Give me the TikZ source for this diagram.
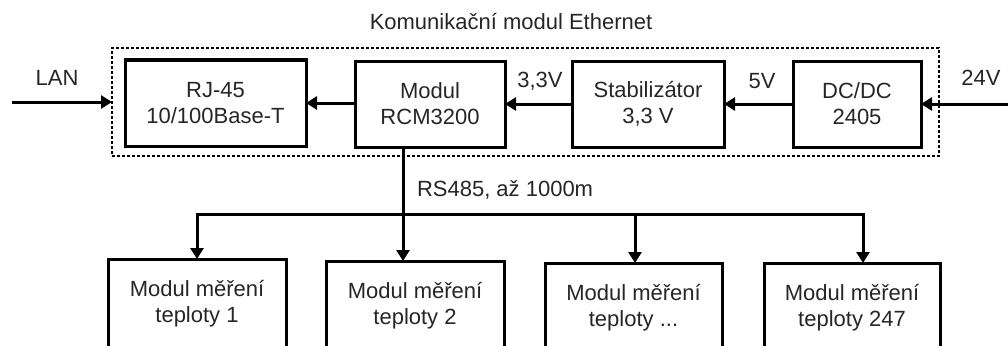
\documentclass[tikz,border=0pt]{standalone}
\usepackage{fontspec}
\setmainfont{Liberation Sans}
\usetikzlibrary{arrows.meta}
\begin{document}
\begin{tikzpicture}[x=1pt,y=-1pt,
  every node/.style={font=\fontsize{22}{26}\selectfont, inner sep=0pt, outer sep=0pt, text=black!85},
  blk/.style={draw=black, line width=3pt, align=center, minimum height=86pt},
  conn/.style={line width=3pt, -{Triangle[length=11pt,width=13pt]}},
  wire/.style={line width=3pt}
]
\useasboundingbox (0,0) rectangle (1008,345);
\clip (0,0) rectangle (1008,345);

\node (title) at (511,22) {Komunikační modul Ethernet};
\node[draw=black, line width=2.6pt, dash pattern=on 2.6pt off 2.4pt, minimum width=827pt, minimum height=108pt] (frame) at (525.5,102) {};

\node[blk, minimum width=181pt] (rj) at (215.5,103) {RJ-45\\10/100Base-T};
\node[blk, minimum width=150pt] (mod) at (430,104) {Modul\\RCM3200};
\node[blk, minimum width=152pt] (stab) at (648,104) {Stabilizátor\\3,3 V};
\node[blk, minimum width=128pt] (dc) at (857,104) {DC/DC\\2405};

\coordinate (lanS) at (12,102);
\coordinate (vS) at (1008,104);
\node (lan) at (57,78) {LAN};
\node (v24) at (981,78) {24V};
\node (v33) at (540,81) {3,3V};
\node (v5) at (762,81) {5V};

\draw[conn] (lanS) -- (lanS -| frame.west);
\draw[conn] (vS) -- (vS -| dc.east);
\draw[conn] (dc.west) -- (stab.east);
\draw[conn] (stab.west) -- (mod.east);
\draw[conn] (mod.west |- rj.east) -- (rj.east);

\node[blk, minimum width=178pt, minimum height=90pt, anchor=north] (b1) at (197,259) {Modul měření\\teploty 1};
\node[blk, minimum width=178pt, minimum height=90pt, anchor=north] (b2) at (415,261) {Modul měření\\teploty 2};
\node[blk, minimum width=177pt, minimum height=90pt, anchor=north] (b3) at (633.5,263) {Modul měření\\teploty ...};
\node[blk, minimum width=176pt, minimum height=90pt, anchor=north] (b4) at (852,263) {Modul měření\\teploty 247};

\coordinate (j1) at (197,214);
\coordinate (j2) at (403,214);
\coordinate (j3) at (635,214);
\coordinate (j4) at (863,214);
\node[anchor=west] (rs) at (417,190) {RS485, až 1000m};

\draw[wire] ([xshift=48pt]mod.south west) -- (j2);
\draw[wire] ([xshift=-1.5pt]j1) -- ([xshift=1.5pt]j4);
\draw[conn] (j1) -- (j1 |- b1.north);
\draw[conn] (j2) -- (j2 |- b2.north);
\draw[conn] (j3) -- (j3 |- b3.north);
\draw[conn] (j4) -- (j4 |- b4.north);
\end{tikzpicture}
\end{document}
